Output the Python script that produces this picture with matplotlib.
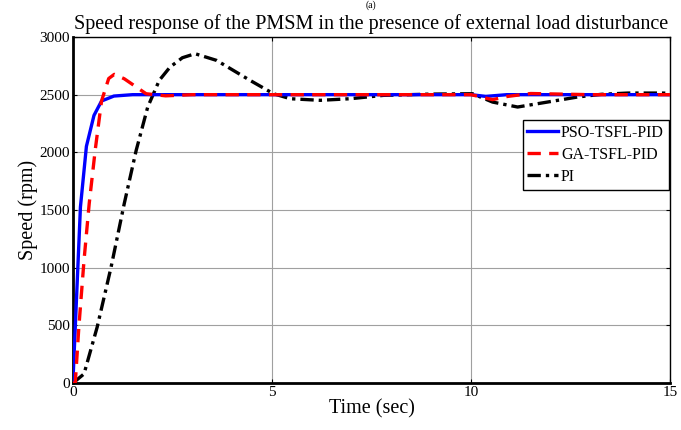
import matplotlib
matplotlib.use("Agg")
import matplotlib.pyplot as plt

plt.rcParams['font.family'] = ['Liberation Serif', 'DejaVu Serif']

# PSO-TSFL-PID
t_pso = [0, 0.19, 0.34, 0.53, 0.72, 1.03, 1.5, 2.0, 5.0, 10.0, 10.37, 10.9, 12.0, 15.0]
y_pso = [0, 1526, 2052, 2320, 2445, 2488, 2500, 2500, 2500, 2500, 2485, 2500, 2500, 2500]

# GA-TSFL-PID
t_ga = [0, 0.06, 0.15, 0.28, 0.41, 0.56, 0.72, 0.9, 1.04, 1.29, 1.84, 2.33, 3.0, 5.0, 10.0, 10.54, 10.92, 11.5, 13.0, 15.0]
y_ga = [0, 0, 485, 1064, 1555, 2017, 2445, 2640, 2676, 2638, 2508, 2490, 2500, 2500, 2500, 2457, 2485, 2510, 2500, 2500]

# PI
t_pi = [0, 0.28, 0.61, 0.96, 1.29, 1.59, 1.88, 2.17, 2.44, 2.75, 3.07, 3.61, 4.45, 5.04, 5.46, 6.21, 6.97, 7.8,
        9.0, 10.04, 10.54, 11.17, 11.92, 12.68, 13.27, 13.94, 14.8, 15.0]
y_pi = [0, 80, 485, 1006, 1555, 2017, 2393, 2624, 2739, 2820, 2855, 2797, 2624, 2508, 2465, 2451, 2465, 2494,
        2505, 2508, 2436, 2393, 2436, 2480, 2503, 2514, 2514, 2512]

x_ticks = [0, 5, 10, 15]
y_ticks = [0, 500, 1000, 1500, 2000, 2500, 3000]

fig = plt.figure(figsize=(6.81, 4.30), dpi=100)
ax = fig.add_axes([0.107, 0.109, 0.877, 0.805])

ax.plot(t_pso, y_pso, color='#0000ff', lw=2.4, ls='-', label='PSO-TSFL-PID', zorder=3)
ax.plot(t_ga, y_ga, color='#ff0000', lw=2.4, ls=(0, (4, 2.5)), label='GA-TSFL-PID', zorder=4)
ax.plot(t_pi, y_pi, color='black', lw=2.4, ls=(0, (4, 1.5, 1, 1.5)), label='PI', zorder=2)

ax.set_xlim(0, 15)
ax.set_ylim(0, 3000)
ax.set_xticks(x_ticks)
ax.set_yticks(y_ticks)
ax.grid(True, color='#a0a0a0', lw=0.8, ls='-')
ax.set_axisbelow(True)
ax.tick_params(direction='in', top=True, right=True, labelsize=11, length=3, pad=2)

for s in ['left', 'bottom']:
    ax.spines[s].set_linewidth(2.0)
for s in ['top', 'right']:
    ax.spines[s].set_linewidth(1.0)

ax.set_xlabel('Time (sec)', fontsize=14.5, labelpad=0)
ax.set_ylabel('Speed (rpm)', fontsize=14.5, labelpad=1)
ax.set_title('Speed response of the PMSM in the presence of external load disturbance',
             fontsize=14.5, pad=6)
fig.text(0.545, 0.999, '(a)', ha='center', va='top', fontsize=7)

leg = ax.legend(loc='upper right', bbox_to_anchor=(0.9975, 0.76), fontsize=11.5,
                fancybox=False, framealpha=1, edgecolor='black', borderpad=0.3,
                handlelength=1.9, handletextpad=0.2, labelspacing=0.38, borderaxespad=0)
leg.get_frame().set_linewidth(1.0)

fig.savefig('out.png', dpi=100)
